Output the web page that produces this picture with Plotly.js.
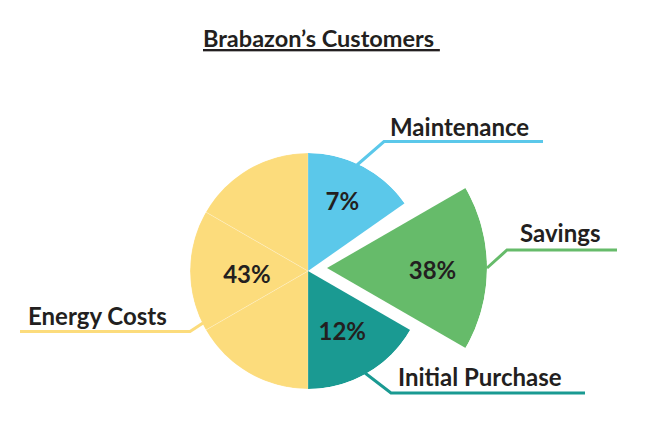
<!DOCTYPE html>
<html><head><meta charset="utf-8">
<script src="https://cdn.plot.ly/plotly-3.0.1.min.js"></script>
<style>html,body{margin:0;padding:0;background:#fff}#chart{width:651px;height:436px}</style>
</head><body><div id="chart"></div>
<script>
// ---- data ----
const categories = ['Maintenance', 'Savings', 'Initial Purchase', 'Energy Costs'];
const percentages = [7, 38, 12, 43];
// angular extent of each slice as drawn (degrees, clockwise from 12 o'clock)
const sliceStartDeg = [0, 60, 120, 180];
const sliceSpanDeg = [55, 60, 60, 180];

// ---- styling ----
const colors = ['#5bc8ea', '#66bb6a', '#1a9a92', '#fcdc7c'];
const textColor = '#231f20';
const FONT = 'Lato, "Open Sans", sans-serif';
const W = 651, H = 436;
const px = x => x / W, py = y => 1 - y / H;

const mainCenter = [308, 271], mainR = 118;
const pullCenter = [327, 268], pullR = 160;
const pulledIndex = 1;
// placement of the percentage labels (radius fraction, angle)
const textRadius = [0.64, 0.66, 0.61, 0.52];
const textTheta = [27, 92.7, 151.6, 264.5];
const energySubdivisions = 3;

function dom(c, r) {
  return { x: [px(c[0] - r), px(c[0] + r)], y: [py(c[1] + r), py(c[1] - r)] };
}
function polarCfg(c, r) {
  return {
    domain: dom(c, r), bgcolor: 'rgba(0,0,0,0)', hole: 0,
    radialaxis: { range: [0, 1], visible: false },
    angularaxis: { rotation: 90, direction: 'clockwise', visible: false }
  };
}

// main bars (all but the pulled slice); last slice drawn as equal sub-wedges
const mainTheta = [], mainWidth = [], mainColor = [], mainLineW = [];
categories.forEach((c, i) => {
  if (i === pulledIndex) return;
  const n = (i === categories.length - 1) ? energySubdivisions : 1;
  const w = sliceSpanDeg[i] / n;
  for (let k = 0; k < n; k++) {
    mainTheta.push(sliceStartDeg[i] + w * (k + 0.5));
    mainWidth.push(w);
    mainColor.push(colors[i]);
    mainLineW.push(n > 1 ? 1 : 0);
  }
});

const keep = (v, i) => i !== pulledIndex;
const pctFont = { family: FONT, size: 24, color: textColor, weight: 'bold' };

const traces = [
  {
    type: 'barpolar', subplot: 'polar',
    r: mainTheta.map(() => 1), theta: mainTheta, width: mainWidth,
    marker: { color: mainColor, line: { color: 'rgba(255,255,255,0.22)', width: mainLineW } },
    hoverinfo: 'skip', showlegend: false
  },
  {
    type: 'barpolar', subplot: 'polar2',
    r: [1], theta: [sliceStartDeg[pulledIndex] + sliceSpanDeg[pulledIndex] / 2],
    width: [sliceSpanDeg[pulledIndex]],
    marker: { color: [colors[pulledIndex]], line: { width: 0 } },
    hoverinfo: 'skip', showlegend: false
  },
  {
    type: 'scatterpolar', subplot: 'polar', mode: 'text',
    r: textRadius.filter(keep), theta: textTheta.filter(keep),
    text: percentages.map(p => p + '%').filter(keep),
    textfont: pctFont, hoverinfo: 'skip', showlegend: false, cliponaxis: false
  },
  {
    type: 'scatterpolar', subplot: 'polar2', mode: 'text',
    r: [textRadius[pulledIndex]], theta: [textTheta[pulledIndex]],
    text: [percentages[pulledIndex] + '%'],
    textfont: pctFont, hoverinfo: 'skip', showlegend: false, cliponaxis: false
  }
];

// callouts: leader-line path (pixels) and label anchor
const callouts = [
  { pts: [[357, 165], [384, 141.5], [543, 141.5]], lx: 388, ly: 127 },
  { pts: [[487, 268], [507, 250], [617, 250]], lx: 518, ly: 232.5 },
  { pts: [[365, 373], [391, 393], [585, 393]], lx: 396, ly: 376.5 },
  { pts: [[203, 323], [190, 331.5], [20, 331.5]], lx: 26, ly: 315 }
];

const shapes = callouts.map((c, i) => ({
  type: 'path', xref: 'paper', yref: 'paper',
  path: c.pts.map((p, k) => (k ? 'L' : 'M') + px(p[0]) + ',' + py(p[1])).join(' '),
  line: { color: colors[i], width: 3 }, fillcolor: 'rgba(0,0,0,0)'
}));

const annotations = callouts.map((c, i) => ({
  xref: 'paper', yref: 'paper', x: px(c.lx), y: py(c.ly),
  xanchor: 'left', yanchor: 'middle', showarrow: false,
  text: categories[i],
  font: { family: FONT, size: 24, color: textColor, weight: 'bold' }
}));
annotations.push({
  xref: 'paper', yref: 'paper', x: px(321), y: py(38),
  xanchor: 'center', yanchor: 'middle', showarrow: false,
  text: '<u>Brabazon’s Customers&nbsp;</u>',
  font: { family: FONT, size: 23.5, color: textColor, weight: 'bold' }
});

const layout = {
  width: W, height: H, margin: { l: 0, r: 0, t: 0, b: 0 },
  paper_bgcolor: '#fff', showlegend: false,
  polar: polarCfg(mainCenter, mainR),
  polar2: polarCfg(pullCenter, pullR),
  shapes, annotations
};

Plotly.newPlot('chart', traces, layout, { displayModeBar: false, staticPlot: true });
</script></body></html>
